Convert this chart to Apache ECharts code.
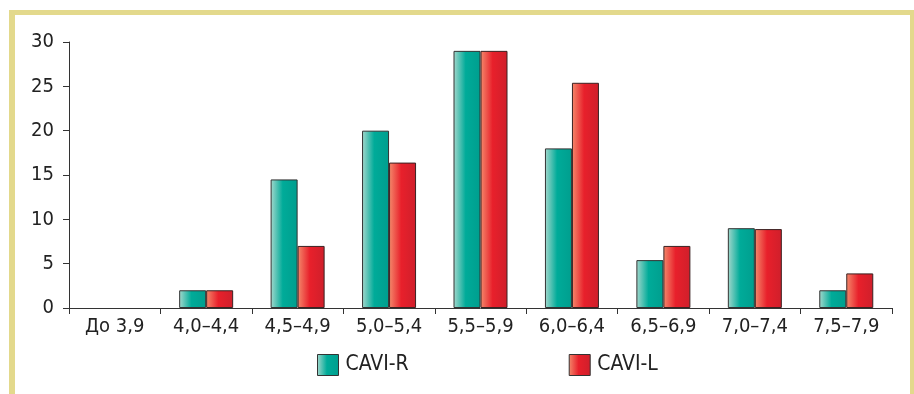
<!DOCTYPE html>
<html>
<head>
<meta charset="utf-8">
<script src="https://cdn.jsdelivr.net/npm/echarts@6/dist/echarts.min.js"></script>
<style>
html,body{margin:0;padding:0;background:#fff;}
#c{width:914px;height:394px;}
</style>
</head>
<body>
<div id="c"></div>
<script>
const categories = ['До 3,9','4,0–4,4','4,5–4,9','5,0–5,4','5,5–5,9','6,0–6,4','6,5–6,9','7,0–7,4','7,5–7,9'];
const caviR = [0, 2, 14.5, 20, 29, 18, 5.4, 9, 2];
const caviL = [0, 2, 7, 16.4, 29, 25.4, 7, 8.9, 3.9];
const yTicks = [0, 5, 10, 15, 20, 25, 30];

const FONT = '"Liberation Sans Narrow", "DejaVu Sans Condensed", "Roboto Condensed", sans-serif';
const tealGrad = new echarts.graphic.LinearGradient(0,0,1,0,[
  {offset:0,color:'#a6d8cd'},{offset:0.45,color:'#00ab99'},{offset:1,color:'#009e8e'}]);
const redGrad = new echarts.graphic.LinearGradient(0,0,1,0,[
  {offset:0,color:'#f48a6c'},{offset:0.45,color:'#e8202b'},{offset:1,color:'#cf1f2b'}]);
const frame = '#e3d98c';

function toData(arr){
  return arr.map(v => v === 0 ? {value:v, itemStyle:{borderWidth:0, opacity:0}} : v);
}

const chart = echarts.init(document.getElementById('c'), null, {renderer:'canvas'});
chart.setOption({
  animation:false,
  backgroundColor:'#fff',
  graphic:[
    {type:'rect', shape:{x:9,y:10,width:6,height:384}, style:{fill:frame}, silent:true},
    {type:'rect', shape:{x:9,y:10,width:905,height:5}, style:{fill:frame}, silent:true},
    {type:'rect', shape:{x:910,y:10,width:5,height:384}, style:{fill:frame}, silent:true}
  ],
  grid:{left:69, right:22, top:42, bottom:86, containLabel:false},
  legend:{
    left:312, top:349, itemWidth:21, itemHeight:21, itemGap:160,
    icon:'rect',
    textStyle:{fontFamily:FONT, fontSize:21, color:'#222', padding:[0,0,0,2]},
    data:[
      {name:'CAVI-R', itemStyle:{color:tealGrad, borderColor:'#333', borderWidth:1}},
      {name:'CAVI-L', itemStyle:{color:redGrad, borderColor:'#333', borderWidth:1}}
    ]
  },
  xAxis:{
    type:'category', data:categories,
    axisLine:{lineStyle:{color:'#333', width:1}},
    axisTick:{show:true, length:6, alignWithLabel:false, lineStyle:{color:'#333'}},
    axisLabel:{fontFamily:FONT, fontSize:20, color:'#222', margin:9, interval:0}
  },
  yAxis:{
    type:'value', min:0, max:30, interval:5,
    axisLine:{show:true, lineStyle:{color:'#333', width:1}},
    axisTick:{show:true, length:6, lineStyle:{color:'#333'}},
    splitLine:{show:false},
    axisLabel:{fontFamily:FONT, fontSize:20, color:'#222', margin:15,
      formatter:function(v){return yTicks.indexOf(v)>=0 ? String(v) : '';}}
  },
  series:[
    {name:'CAVI-R', type:'bar', data:toData(caviR), barWidth:27, barGap:'0%',
      itemStyle:{color:tealGrad, borderColor:'#333', borderWidth:1}},
    {name:'CAVI-L', type:'bar', data:toData(caviL), barWidth:27, barGap:'0%',
      itemStyle:{color:redGrad, borderColor:'#3a2222', borderWidth:1}}
  ]
});
</script>
</body>
</html>
